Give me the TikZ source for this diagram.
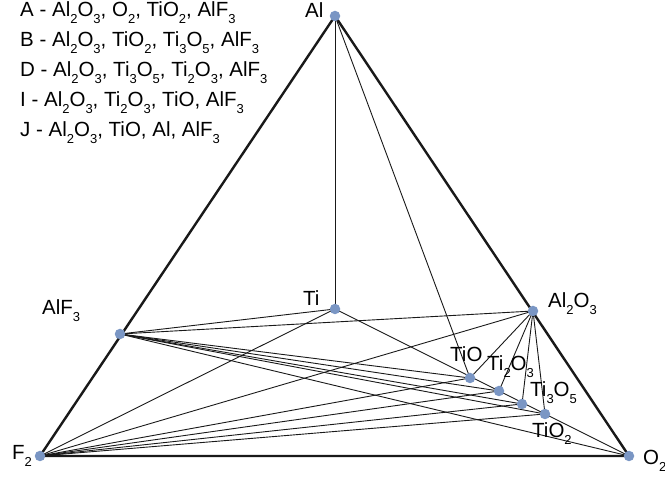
\documentclass[tikz,border=0pt]{standalone}
\usepackage{fontspec}
\setmainfont{Liberation Sans}
\newcommand\sbs[1]{\raisebox{-6.5pt}{\fontsize{13}{13}\selectfont #1}}
\definecolor{dotblue}{RGB}{122,150,196}
\begin{document}
\begin{tikzpicture}[x=1pt,y=-1pt,
  thin line/.style={line width=0.9pt,black!90},
  thick line/.style={line width=2.4pt,black!90,line join=round},
  pt/.style={circle,fill=dotblue,inner sep=0pt,minimum size=10.5pt},
  lbl/.style={inner sep=0pt,anchor=base west,font=\fontsize{20.5}{20.5}\selectfont}]
\useasboundingbox (0,0) rectangle (665,478);
% coordinates
\coordinate (al) at (335,16);
\coordinate (f2) at (40,456);
\coordinate (o2) at (629,456);
\coordinate (alf3) at (120,334);
\coordinate (ti) at (335,309);
\coordinate (alo) at (533,311);
\coordinate (tio) at (470,378);
\coordinate (titwo) at (499,391);
\coordinate (tithree) at (522,404);
\coordinate (tiotwo) at (545,414);
% thin connectors
\draw[thin line] (al) -- (ti);
\draw[thin line] (al) -- (tio);
\draw[thin line] (ti) -- (o2);
\draw[thin line] (ti) -- (f2);
\draw[thin line] (alf3) -- (ti);
\draw[thin line] (alf3) -- (alo);
\foreach \t in {tio,titwo,tithree,tiotwo,o2} \draw[thin line] (alf3) -- (\t);
\foreach \t in {tio,titwo,tithree,tiotwo,alo} \draw[thin line] (f2) -- (\t);
\foreach \t in {tio,titwo,tithree,tiotwo} \draw[thin line] (alo) -- (\t);
% triangle
\draw[thick line] (al) -- (f2) -- (o2) -- cycle;
% dots
\foreach \n in {al,f2,o2,alf3,ti,alo,tio,titwo,tithree,tiotwo} \node[pt] (d\n) at (\n) {};
% labels
\node[lbl] (lal) at (305,18) {Al};
\node[lbl] (lti) at (303,306) {Ti};
\node[lbl] (lalf3) at (42,315) {AlF\sbs{3}};
\node[lbl] (lalo) at (548,308) {Al\sbs{2}O\sbs{3}};
\node[lbl] (ltio) at (450,362) {TiO};
\node[lbl] (ltitwo) at (487,371) {Ti\sbs{2}O\sbs{3}};
\node[lbl] (ltithree) at (530,397) {Ti\sbs{3}O\sbs{5}};
\node[lbl] (ltiotwo) at (532,438) {TiO\sbs{2}};
\node[lbl] (lf2) at (12,460) {F\sbs{2}};
\node[lbl] (lo2) at (643,465) {O\sbs{2}};
% legend
\node[lbl] (la) at (20,17) {A - Al\sbs{2}O\sbs{3}, O\sbs{2}, TiO\sbs{2}, AlF\sbs{3}};
\node[lbl] (lb) at (20,47) {B - Al\sbs{2}O\sbs{3}, TiO\sbs{2}, Ti\sbs{3}O\sbs{5}, AlF\sbs{3}};
\node[lbl] (ld) at (20,77) {D - Al\sbs{2}O\sbs{3}, Ti\sbs{3}O\sbs{5}, Ti\sbs{2}O\sbs{3}, AlF\sbs{3}};
\node[lbl] (li) at (20,107) {I - Al\sbs{2}O\sbs{3}, Ti\sbs{2}O\sbs{3}, TiO, AlF\sbs{3}};
\node[lbl] (lj) at (20,137) {J - Al\sbs{2}O\sbs{3}, TiO, Al, AlF\sbs{3}};
\end{tikzpicture}
\end{document}
